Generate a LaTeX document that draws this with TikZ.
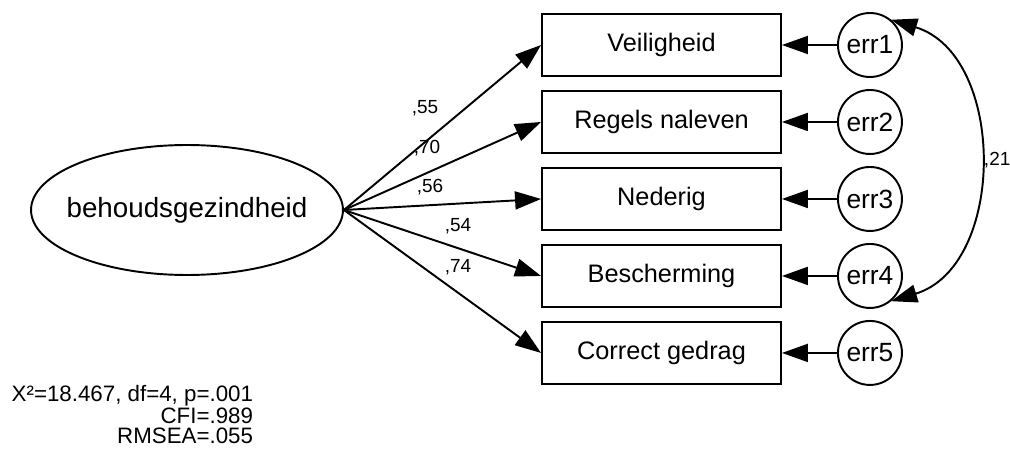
\documentclass[tikz,border=0pt]{standalone}
\usepackage{fontspec}
\setmainfont{Liberation Sans}
\usetikzlibrary{arrows.meta,positioning,shapes.geometric}
\begin{document}
\begin{tikzpicture}
[x=0.02cm, y=-0.02cm, node distance=1.54cm, line width=1.1pt, font=\fontsize{14.4}{17}\selectfont]
\tikzstyle{factor}=[ellipse, draw, minimum width=6.24cm, minimum height=2.6cm, inner xsep=-8pt, inner ysep=0pt, font=\fontsize{15.8}{19}\selectfont]
\tikzstyle{item}=[rectangle, draw, minimum width=4.78cm, minimum height=1.24cm, inner sep=0pt]
\tikzstyle{err}=[circle, draw, minimum size=1.28cm, inner sep=0pt, font=\fontsize{15}{17}\selectfont]
\tikzstyle{load}=[-{Triangle[length=0.52cm, width=0.36cm]}]
\tikzstyle{cov}=[{Triangle[length=0.52cm, width=0.36cm]}-{Triangle[length=0.52cm, width=0.36cm]}]
\tikzstyle{lbl}=[inner sep=0pt, font=\fontsize{10.8}{13}\selectfont]
\useasboundingbox (0,0) rectangle (1010,459);

\node[factor]	(F)	at (187,210)	{behoudsgezindheid};
\node[item]	(Y1)	at (661.5,45)	{Veiligheid};
\node[item]	(Y2)	[below of=Y1]	{Regels naleven};
\node[item]	(Y3)	[below of=Y2]	{Nederig};
\node[item]	(Y4)	[below of=Y3]	{Bescherming};
\node[item]	(Y5)	[below of=Y4]	{Correct gedrag};
\node[err]	(E1)	[right of=Y1, node distance=4.17cm]	{err1};
\node[err]	(E2)	[right of=Y2, node distance=4.17cm]	{err2};
\node[err]	(E3)	[right of=Y3, node distance=4.17cm]	{err3};
\node[err]	(E4)	[right of=Y4, node distance=4.17cm]	{err4};
\node[err]	(E5)	[right of=Y5, node distance=4.17cm]	{err5};

\foreach \i in {1,...,5}
{
  \draw[load]	(F.east) -- (Y\i.west);
  \draw[load]	(E\i) -- (Y\i);
}
\draw[cov]	(E1.50) to[bend left=73, looseness=1.1] node[lbl, right=3pt] (r) {,21} (E4.-50);

\node[lbl]	(l1)	at (425,108)	{,55};
\node[lbl]	(l2)	at (427,148)	{,70};
\node[lbl]	(l3)	at (430,187)	{,56};
\node[lbl]	(l4)	at (458,226)	{,54};
\node[lbl]	(l5)	at (458,267)	{,74};

\node[inner sep=0pt, align=right, anchor=north east, font=\fontsize{12.7}{11.4}\selectfont]	(fit)	at (254,384)	{X²=18.467, df=4, p=.001\\CFI=.989\\RMSEA=.055};
\end{tikzpicture}
\end{document}
